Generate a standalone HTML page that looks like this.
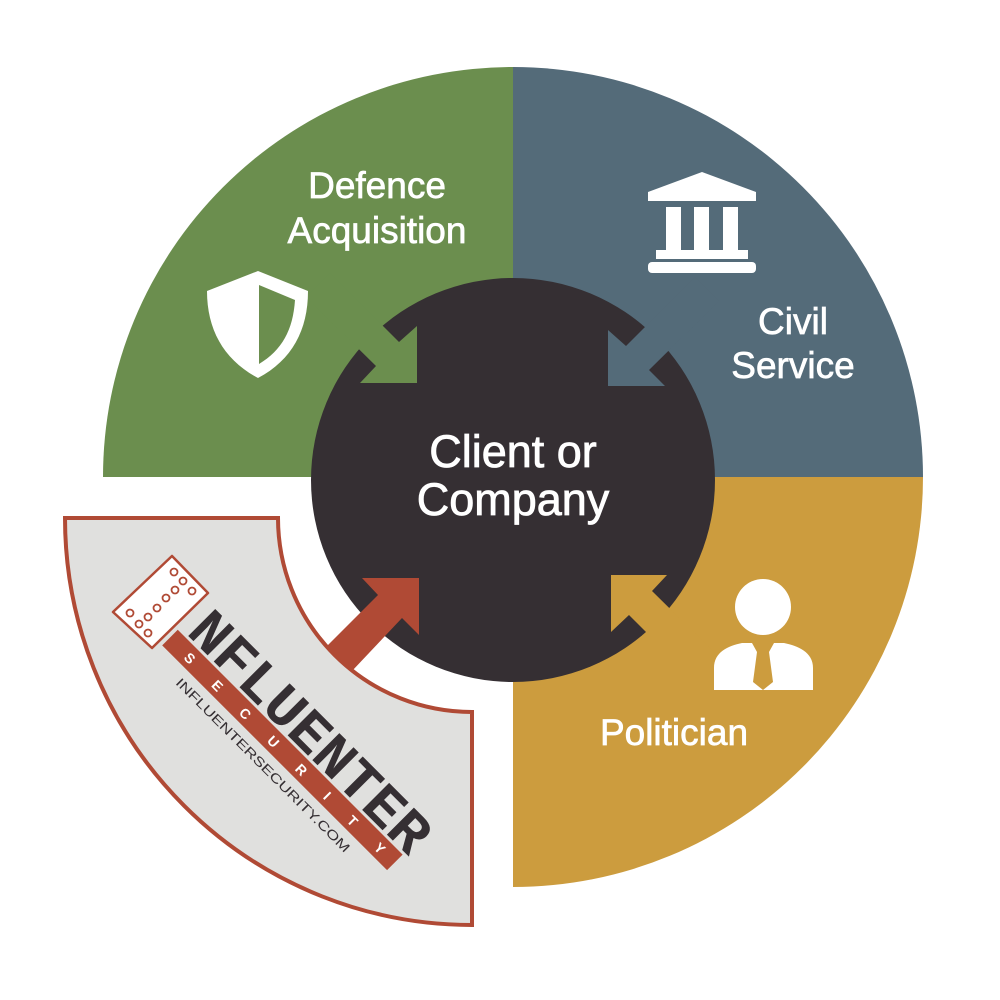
<!DOCTYPE html>
<html><head><meta charset="utf-8"><style>html,body{margin:0;padding:0;background:#fff}svg{display:block}</style></head>
<body>
<svg width="1000" height="1000" viewBox="0 0 1000 1000" xmlns="http://www.w3.org/2000/svg" font-family="Liberation Sans, sans-serif">
<rect width="1000" height="1000" fill="#fff"/>
<path d="M513,477 L103,477 A410,410 0 0 1 513,67 Z" fill="#6b8e4e"/>
<path d="M513,477 L513,67 A410,410 0 0 1 923,477 Z" fill="#546b79"/>
<path d="M513,477 L923,477 A410,410 0 0 1 513,887 Z" fill="#cc9c3e"/>
<path d="M65,518 L278,518 A194,194 0 0 0 472,712 L472,925 A407,407 0 0 1 65,518 Z" fill="#e0e0de" stroke="#b04a35" stroke-width="4"/>
<circle cx="513" cy="480" r="202" fill="#352f33"/>
<polygon fill="#6b8e4e" points="360,383 417,383 417,326 399,342 330,273 306,297 376,366"/>
<polygon fill="#546b79" points="665,386 608,386 608,330 626,346 695,277 719,301 649,370"/>
<polygon fill="#cc9c3e" points="667,575 611,575 611,632 629,615 698,684 722,660 652,591"/>
<polygon fill="#b04a35" points="362,578 419,578 419,635 402,618 352,671 327,646 378,595"/>
<g fill="#fff" stroke="#fff" stroke-width="0.7" font-size="37" text-anchor="middle">
<text x="377" y="198">Defence</text>
<text x="377" y="243">Acquisition</text>
<text x="793" y="334">Civil</text>
<text x="793" y="378">Service</text>
<text x="674" y="745">Politician</text>
</g>
<g fill="#fff" stroke="#fff" stroke-width="0.8" font-size="45" text-anchor="middle">
<text x="513" y="467">Client or</text>
<text x="513" y="515">Company</text>
</g>
<path d="M258,271 L308,291 C308,330 292,360 258,378 C224,360 207,330 207,291 Z" fill="#fff"/>
<path d="M259,285 L295,300 C293,330 282,350 259,364 Z" fill="#6b8e4e"/>
<g fill="#fff">
<polygon points="702,172 756,192 756,201 648,201 648,192"/>
<rect x="666" y="207" width="15" height="44"/>
<rect x="694" y="207" width="15" height="44"/>
<rect x="723" y="207" width="15" height="44"/>
<rect x="656" y="250" width="92" height="9"/>
<rect x="648" y="262" width="108" height="11" rx="4"/>
</g>
<g fill="#fff">
<circle cx="763" cy="607" r="28"/>
<path d="M714,690 L714,668 C714,652 728,646 742,643 L752,643 L757,652 L753,682 L763,690 L773,682 L769,652 L774,643 L784,643 C798,646 813,652 813,668 L813,690 Z"/>
</g>
<polygon points="113,612 172,556 208,593 152,648" fill="#fff" stroke="#b04a35" stroke-width="2.5" stroke-linejoin="round"/>
<g fill="none" stroke="#b04a35" stroke-width="1.8">
<circle cx="174" cy="572" r="3.5"/><circle cx="183" cy="581" r="3.5"/><circle cx="192" cy="591" r="3.5"/>
<circle cx="175" cy="590" r="3.5"/><circle cx="166" cy="598" r="3.5"/><circle cx="157" cy="608" r="3.5"/>
<circle cx="148" cy="617" r="3.5"/><circle cx="130" cy="613" r="3.5"/><circle cx="139" cy="624" r="3.5"/>
<circle cx="148" cy="633" r="3.5"/>
</g>
<g transform="translate(182,634) rotate(45)">
<rect x="-6" y="0" width="318" height="22" fill="#b04a35"/>
<text x="2" y="-3" font-family="Liberation Mono, monospace" font-weight="bold" font-size="58" fill="#352f33" textLength="316" lengthAdjust="spacingAndGlyphs">NFLUENTER</text>
<text x="18" y="16.5" font-size="14" font-weight="bold" fill="#fff" textLength="278" lengthAdjust="spacing">SECURITY</text>
<text x="30" y="40" font-size="13" fill="#352f33" textLength="240" lengthAdjust="spacingAndGlyphs">INFLUENTERSECURITY.COM</text>
</g>
</svg>
</body></html>
